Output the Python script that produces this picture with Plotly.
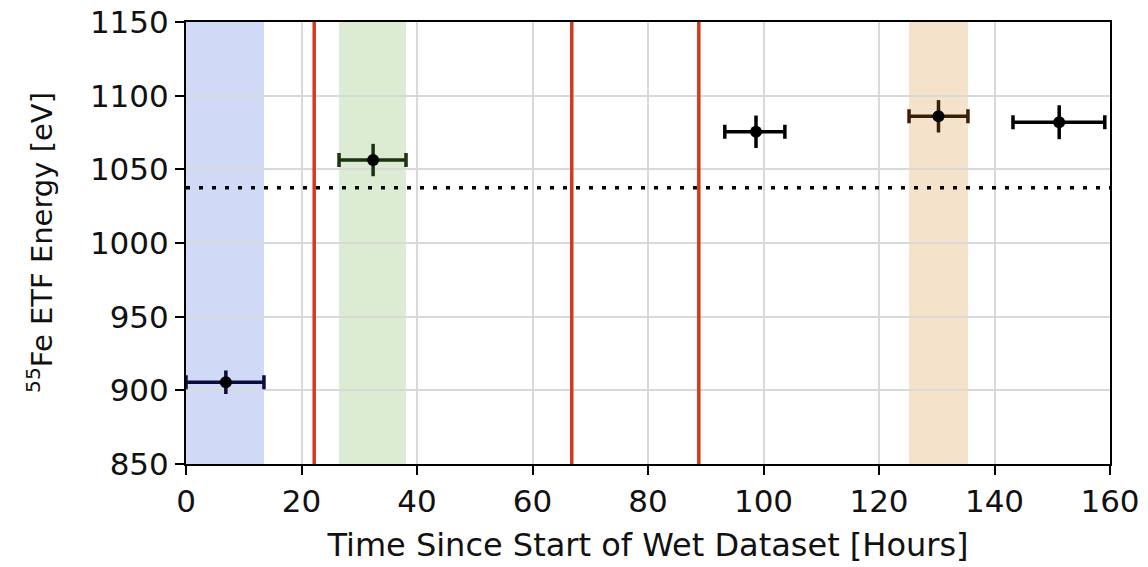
import plotly.graph_objects as go

# Measurement periods: central time, time range, ETF energy and its uncertainty
time_h = [6.9, 32.4, 98.7, 130.3, 151.2]
time_lo = [0.0, 26.5, 93.3, 125.2, 143.2]
time_hi = [13.5, 38.1, 103.7, 135.4, 159.1]
energy_ev = [905.5, 1056.3, 1075.5, 1086.0, 1082.0]
energy_err = [8.0, 11.0, 11.0, 11.0, 11.5]
bar_colors = ["#0c0c3e", "#1c3212", "#000000", "#3a1f08", "#000000"]

# Reference energy level
reference_ev = 1037.5

# Highlighted time windows (start, end, fill)
bands = [
    (0.0, 13.5, "rgba(80,115,220,0.27)"),
    (26.5, 38.1, "rgba(110,180,80,0.25)"),
    (125.2, 135.4, "rgba(215,150,60,0.27)"),
]

# Event markers
events_h = [22.2, 66.8, 88.8]

x_ticks = [0, 20, 40, 60, 80, 100, 120, 140, 160]
y_ticks = [850, 900, 950, 1000, 1050, 1100, 1150]

x_title = "Time Since Start of Wet Dataset [Hours]"
y_title = "<sup>55</sup>Fe ETF Energy [eV]"

fig = go.Figure()

for i in range(len(time_h)):
    fig.add_trace(go.Scatter(
        x=[time_h[i]],
        y=[energy_ev[i]],
        mode="markers",
        marker=dict(color="black", size=12),
        error_x=dict(type="data", symmetric=False,
                     array=[time_hi[i] - time_h[i]],
                     arrayminus=[time_h[i] - time_lo[i]],
                     color=bar_colors[i], thickness=3.5, width=7),
        error_y=dict(type="data", array=[energy_err[i]],
                     color=bar_colors[i], thickness=3.5, width=0),
        showlegend=False,
    ))

shapes = []
for x0, x1, col in bands:
    shapes.append(dict(type="rect", xref="x", yref="paper", x0=x0, x1=x1,
                       y0=0, y1=1, fillcolor=col, line=dict(width=0),
                       layer="below"))
for ev in events_h:
    shapes.append(dict(type="line", xref="x", yref="paper", x0=ev, x1=ev,
                       y0=0, y1=1, line=dict(color="#d13a1f", width=3.5)))
shapes.append(dict(type="line", xref="paper", yref="y", x0=0, x1=1,
                   y0=reference_ev, y1=reference_ev,
                   line=dict(color="black", width=3.5, dash="4px,9px")))

font_family = "DejaVu Sans"
fig.update_layout(
    width=1148, height=567,
    margin=dict(l=186, r=38, t=22, b=103),
    plot_bgcolor="white", paper_bgcolor="white",
    font=dict(family=font_family, size=31, color="#111111"),
    shapes=shapes,
    xaxis=dict(
        range=[0, 160], tickvals=x_ticks, automargin=False,
        showgrid=True, gridcolor="#d9d9d9", gridwidth=1.5,
        showline=True, linecolor="black", linewidth=2, mirror=True,
        ticks="outside", ticklen=9, tickwidth=2, tickcolor="black",
        zeroline=False,
        title=dict(text=x_title, font=dict(size=32)),
    ),
    yaxis=dict(
        range=[850, 1150], tickvals=y_ticks, automargin=False,
        showgrid=True, gridcolor="#d9d9d9", gridwidth=1.5,
        showline=True, linecolor="black", linewidth=2, mirror=True,
        ticks="outside", ticklen=9, tickwidth=2, tickcolor="black",
        zeroline=False,
    ),
    annotations=[dict(
        text=y_title, xref="paper", yref="paper",
        x=-0.158, y=0.5, xanchor="center", yanchor="middle",
        textangle=-90, showarrow=False,
        font=dict(size=29, family=font_family, color="#111111"),
    )],
)

fig.write_html("out.html")
